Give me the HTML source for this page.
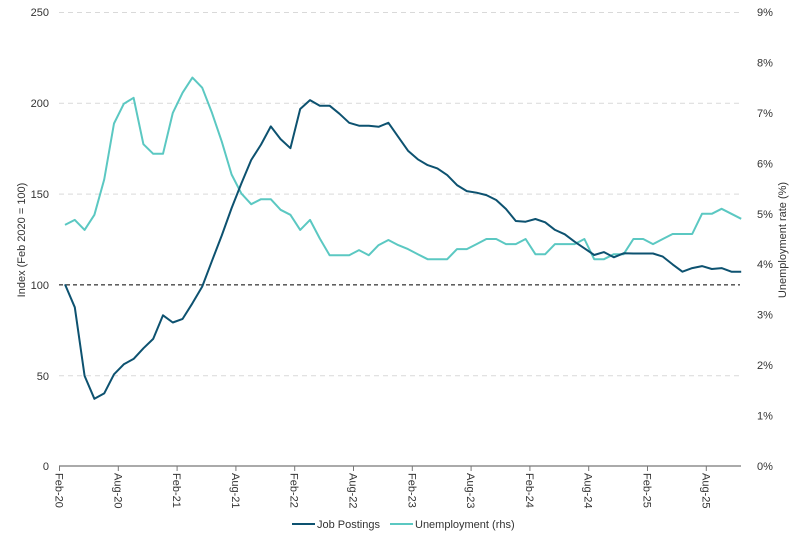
<!DOCTYPE html>
<html><head><meta charset="utf-8"><style>
html,body{margin:0;padding:0;background:#fff;}
svg{display:block;font-family:"Liberation Sans",sans-serif;}
text{fill:#333;font-size:11px;}
</style></head><body>
<svg id="s" width="802" height="542" viewBox="0 0 802 542" xmlns="http://www.w3.org/2000/svg">
<g stroke="#d9d9d9" stroke-width="1" stroke-dasharray="5,4">
<line x1="59" y1="12.5" x2="740" y2="12.5"/>
<line x1="59" y1="103.3" x2="740" y2="103.3"/>
<line x1="59" y1="194.1" x2="740" y2="194.1"/>
<line x1="59" y1="375.7" x2="740" y2="375.7"/>
</g>
<line x1="59" y1="284.9" x2="740" y2="284.9" stroke="#000" stroke-width="1" stroke-dasharray="4,3"/>
<line x1="59" y1="466" x2="741" y2="466" stroke="#777" stroke-width="1.2"/>
<g id="ticks" stroke="#777" stroke-width="1"></g>
<g text-anchor="end">
<text x="49" y="16">250</text><text x="49" y="107">200</text><text x="49" y="198">150</text>
<text x="49" y="289">100</text><text x="49" y="380">50</text><text x="49" y="470">0</text>
</g>
<g id="rl"></g>
<g id="xl"></g>
<text transform="translate(25,240) rotate(-90)" text-anchor="middle">Index (Feb 2020 = 100)</text>
<text transform="translate(786,240) rotate(-90)" text-anchor="middle">Unemployment rate (%)</text>
<polyline id="u" fill="none" stroke="#5bc8c2" stroke-width="2" stroke-linejoin="round"/>
<polyline id="j" fill="none" stroke="#0d5270" stroke-width="2" stroke-linejoin="round"/>
<line x1="292" y1="524" x2="315" y2="524" stroke="#0d5270" stroke-width="2"/>
<text x="317" y="528">Job Postings</text>
<line x1="390" y1="524" x2="413" y2="524" stroke="#5bc8c2" stroke-width="2"/>
<text x="415" y="528">Unemployment (rhs)</text>
</svg>
<script>
var J=[100,87.4,49.6,37,40,50.5,56,59,64.8,70,83,79,81,89.6,98.8,113,127,142,155.6,168.5,177,187,180,175,196.6,201.5,198.4,198.4,194,189,187.4,187.4,186.8,189,181.3,173.6,168.9,165.7,163.9,160.2,154.7,151.4,150.5,149.2,146.5,141.5,134.9,134.5,136,134.2,130,127.6,123.5,119.9,116.2,117.8,114.9,117.1,117,117,117,115.3,111,107,109,110.1,108.5,109,107,107];
var U=[4.78,4.88,4.68,4.98,5.68,6.79,7.18,7.3,6.38,6.19,6.19,7.0,7.4,7.7,7.5,7.0,6.43,5.78,5.4,5.19,5.29,5.29,5.08,4.98,4.68,4.88,4.51,4.18,4.18,4.18,4.28,4.18,4.38,4.48,4.38,4.3,4.2,4.1,4.1,4.1,4.3,4.3,4.4,4.5,4.5,4.4,4.4,4.5,4.2,4.2,4.4,4.4,4.4,4.5,4.1,4.1,4.2,4.2,4.5,4.5,4.4,4.5,4.6,4.6,4.6,5.0,5.0,5.1,5.0,4.9];
var NS="http://www.w3.org/2000/svg";
function X(i){return 65+9.8*i;}
document.getElementById('j').setAttribute('points',J.map(function(v,i){return X(i).toFixed(1)+','+(466-v*1.816).toFixed(1)}).join(' '));
document.getElementById('u').setAttribute('points',U.map(function(v,i){return X(i).toFixed(1)+','+(466-v*50.44).toFixed(1)}).join(' '));
var t=document.getElementById('ticks'),xl=document.getElementById('xl'),rl=document.getElementById('rl');
var lab=['Feb-20','Aug-20','Feb-21','Aug-21','Feb-22','Aug-22','Feb-23','Aug-23','Feb-24','Aug-24','Feb-25','Aug-25'];
for(var k=0;k<12;k++){var x=59.5+6*9.8*k;
var l=document.createElementNS(NS,'line');l.setAttribute('x1',x);l.setAttribute('x2',x);l.setAttribute('y1',466);l.setAttribute('y2',471);t.appendChild(l);
var tx=document.createElementNS(NS,'text');tx.setAttribute('transform','translate('+(x-4)+',473) rotate(90)');tx.textContent=lab[k];xl.appendChild(tx);}
for(var p=0;p<=9;p++){var tx=document.createElementNS(NS,'text');tx.setAttribute('x',757);tx.setAttribute('y',(466-p*50.44+4).toFixed(1));tx.textContent=p+'%';rl.appendChild(tx);}
</script>
</body></html>
